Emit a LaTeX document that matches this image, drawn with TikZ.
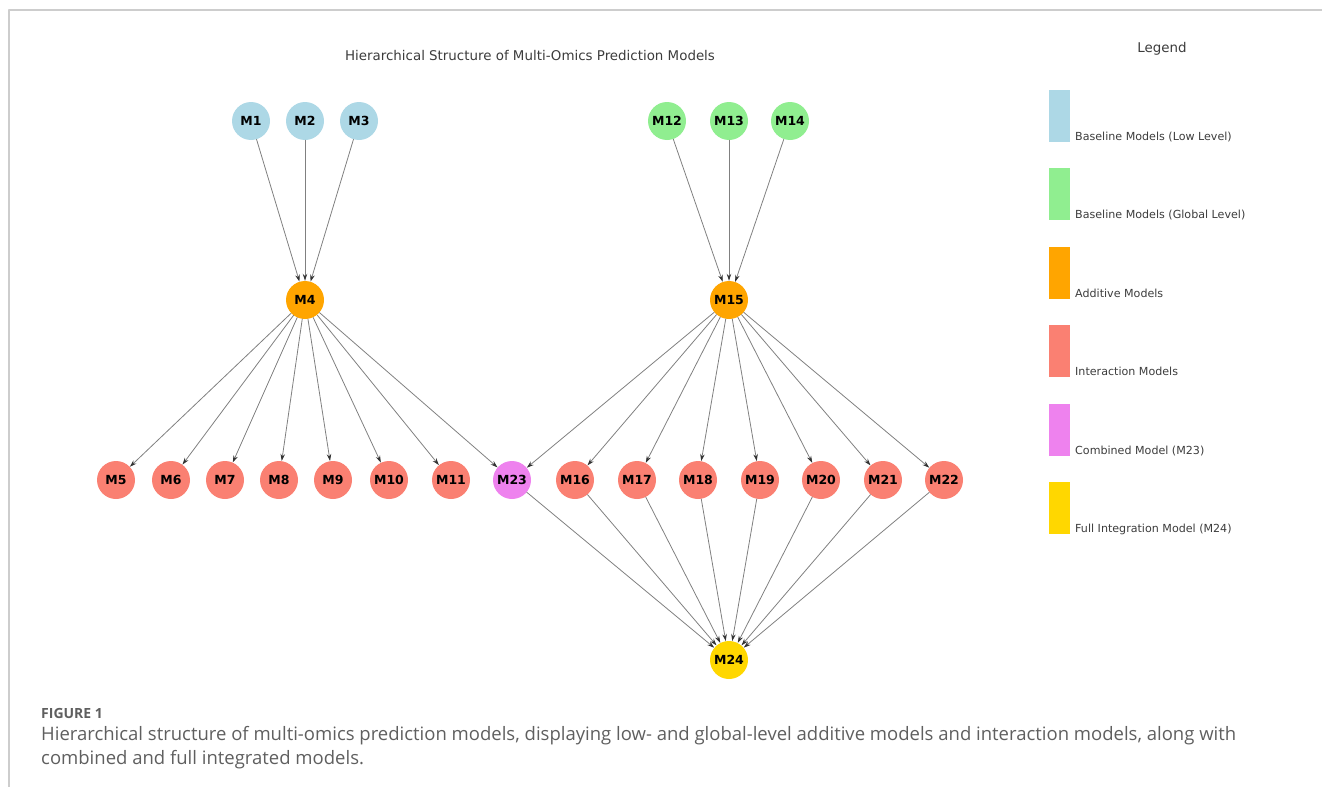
\documentclass[tikz,border=0pt]{standalone}
\usepackage{fontspec}
\setmainfont{DejaVu Sans}
\newfontfamily\capfont{Open Sans}
\usetikzlibrary{arrows.meta}
\definecolor{lowblue}{RGB}{173,216,230}
\definecolor{globgreen}{RGB}{144,238,144}
\definecolor{addorange}{RGB}{255,165,0}
\definecolor{intsalmon}{RGB}{250,128,114}
\definecolor{combviolet}{RGB}{238,130,238}
\definecolor{fullgold}{RGB}{255,215,0}
\definecolor{edgegray}{RGB}{128,128,128}
\definecolor{textgray}{RGB}{60,60,60}
\definecolor{capgray}{RGB}{95,95,95}
\definecolor{framegray}{RGB}{205,205,205}
\begin{document}
\begin{tikzpicture}[x=1pt, y=-1pt, line join=round, line cap=round,
	model/.style={circle, minimum size=38pt, inner sep=0pt, font=\bfseries\fontsize{12.5}{13}\selectfont},
	edge/.style={draw=edgegray, line width=0.8pt, -{Stealth[length=7pt, width=4.5pt, color=black!80]}},
	legtext/.style={anchor=base west, inner sep=0pt, text=textgray, font=\fontsize{11.1}{13}\selectfont},
	captext/.style={anchor=base west, inner sep=0pt, text=capgray, font=\capfont\fontsize{18.5}{24}\selectfont}]
	\useasboundingbox (0,0) rectangle (1322,787);
	% frame
	\draw[framegray, line width=1.2pt, line cap=butt] (1322,10) -- (9,10) -- (9,787);
	% titles
	\node[anchor=base, inner sep=0pt, text=textgray, font=\fontsize{13.4}{15}\selectfont] (title) at (530,60) {Hierarchical Structure of Multi-Omics Prediction Models};
	\node[anchor=base, inner sep=0pt, text=textgray, font=\fontsize{13.4}{15}\selectfont] (legtitle) at (1162,52) {Legend};
	% top level
	\node[model, fill=lowblue] (M1) at (251,121) {M1};
	\node[model, fill=lowblue] (M2) at (305,121) {M2};
	\node[model, fill=lowblue] (M3) at (359,121) {M3};
	\node[model, fill=globgreen] (M12) at (667,121) {M12};
	\node[model, fill=globgreen] (M13) at (729,121) {M13};
	\node[model, fill=globgreen] (M14) at (790,121) {M14};
	% additive
	\node[model, fill=addorange] (M4) at (305,300) {M4};
	\node[model, fill=addorange] (M15) at (729,300) {M15};
	% interaction row
	\node[model, fill=intsalmon] (M5) at (116,480) {M5};
	\node[model, fill=intsalmon] (M6) at (171,480) {M6};
	\node[model, fill=intsalmon] (M7) at (225,480) {M7};
	\node[model, fill=intsalmon] (M8) at (279,480) {M8};
	\node[model, fill=intsalmon] (M9) at (333,480) {M9};
	\node[model, fill=intsalmon] (M10) at (389,480) {M10};
	\node[model, fill=intsalmon] (M11) at (451,480) {M11};
	\node[model, fill=combviolet] (M23) at (512,480) {M23};
	\node[model, fill=intsalmon] (M16) at (575,480) {M16};
	\node[model, fill=intsalmon] (M17) at (637,480) {M17};
	\node[model, fill=intsalmon] (M18) at (698,480) {M18};
	\node[model, fill=intsalmon] (M19) at (760,480) {M19};
	\node[model, fill=intsalmon] (M20) at (821,480) {M20};
	\node[model, fill=intsalmon] (M21) at (883,480) {M21};
	\node[model, fill=intsalmon] (M22) at (944,480) {M22};
	% full model
	\node[model, fill=fullgold] (M24) at (729,660) {M24};
	% edges
	\draw[edge] (M1)--(M4); \draw[edge] (M2)--(M4); \draw[edge] (M3)--(M4);
	\draw[edge] (M12)--(M15); \draw[edge] (M13)--(M15); \draw[edge] (M14)--(M15);
	\draw[edge] (M4)--(M5); \draw[edge] (M4)--(M6); \draw[edge] (M4)--(M7); \draw[edge] (M4)--(M8);
	\draw[edge] (M4)--(M9); \draw[edge] (M4)--(M10); \draw[edge] (M4)--(M11); \draw[edge] (M4)--(M23);
	\draw[edge] (M15)--(M23); \draw[edge] (M15)--(M16); \draw[edge] (M15)--(M17); \draw[edge] (M15)--(M18);
	\draw[edge] (M15)--(M19); \draw[edge] (M15)--(M20); \draw[edge] (M15)--(M21); \draw[edge] (M15)--(M22);
	\draw[edge] (M23)--(M24); \draw[edge] (M16)--(M24); \draw[edge] (M17)--(M24); \draw[edge] (M18)--(M24);
	\draw[edge] (M19)--(M24); \draw[edge] (M20)--(M24); \draw[edge] (M21)--(M24); \draw[edge] (M22)--(M24);
	% legend
	\fill[lowblue] (1049,90) rectangle (1070,142);
	\fill[globgreen] (1049,168) rectangle (1070,220);
	\fill[addorange] (1049,247) rectangle (1070,299);
	\fill[intsalmon] (1049,325) rectangle (1070,377);
	\fill[combviolet] (1049,404) rectangle (1070,456);
	\fill[fullgold] (1049,482) rectangle (1070,534);
	\node[legtext] (leglow) at (1075,140) {Baseline Models (Low Level)};
	\node[legtext] (legglob) at (1075,218) {Baseline Models (Global Level)};
	\node[legtext] (legadd) at (1075,297) {Additive Models};
	\node[legtext] (legint) at (1075,375) {Interaction Models};
	\node[legtext] (legcomb) at (1075,454) {Combined Model (M23)};
	\node[legtext] (legfull) at (1075,532) {Full Integration Model (M24)};
	% caption
	\node[anchor=base west, inner sep=0pt, text=capgray, font=\capfont\bfseries\fontsize{14}{16}\selectfont] (fig) at (41,718) {FIGURE 1};
	\node[captext] (cap1) at (41,740) {Hierarchical structure of multi-omics prediction models, displaying low- and global-level additive models and interaction models, along with};
	\node[captext] (cap2) at (41,764) {combined and full integrated models.};
\end{tikzpicture}
\end{document}
